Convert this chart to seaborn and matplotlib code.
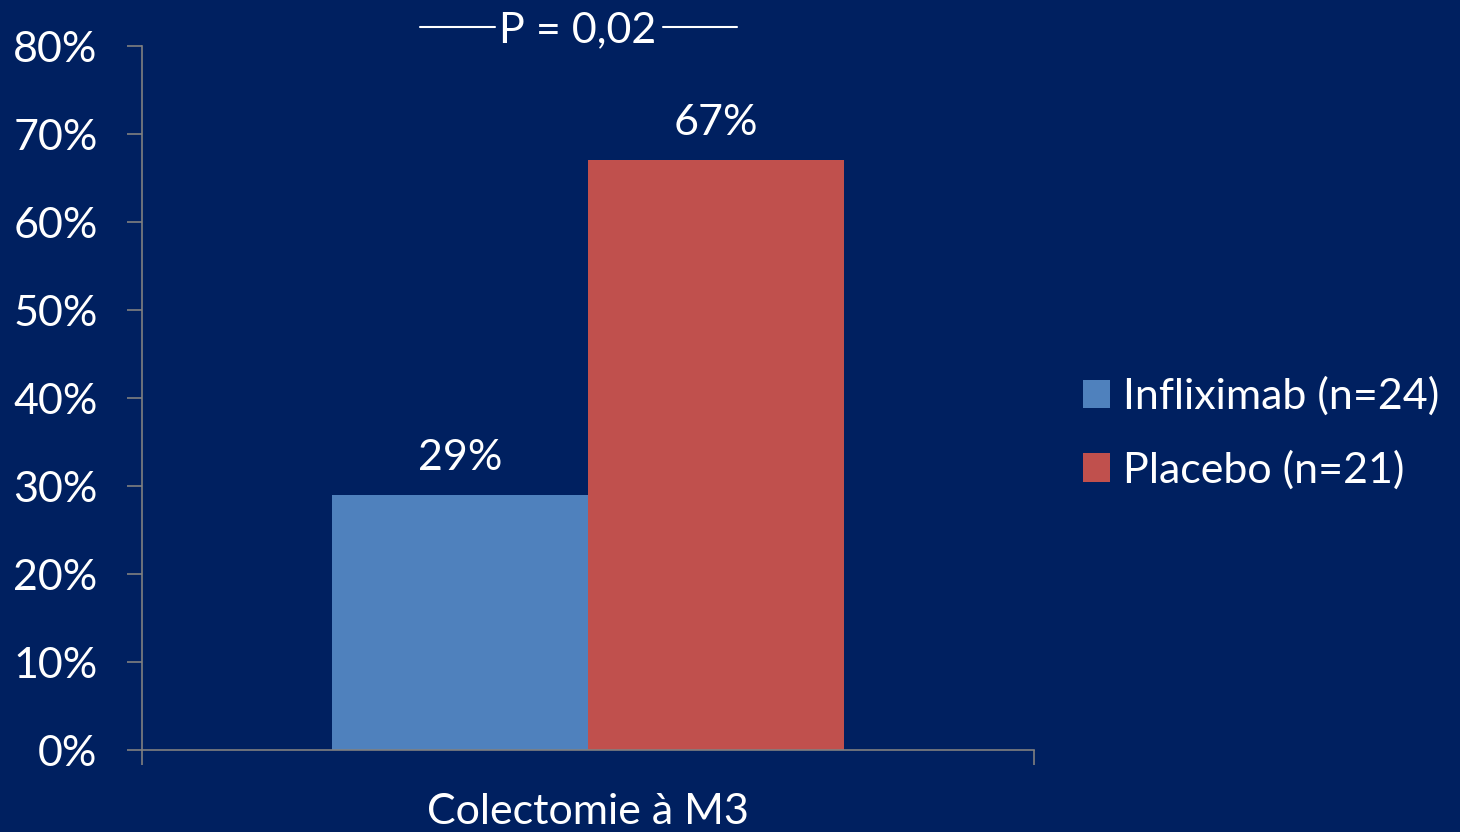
import matplotlib
matplotlib.use("Agg")
import matplotlib.pyplot as plt
from matplotlib.lines import Line2D
import seaborn as sns
import pandas as pd

# Colectomy rate at month 3
categories = ["Colectomie à M3"]
groups = ["Infliximab (n=24)", "Placebo (n=21)"]
values = [0.29, 0.67]
value_labels = ["29%", "67%"]
ytick_values = [0.0, 0.1, 0.2, 0.3, 0.4, 0.5, 0.6, 0.7, 0.8]
ytick_labels = ["0%", "10%", "20%", "30%", "40%", "50%", "60%", "70%", "80%"]
p_text = "P = 0,02"

BG = "#002060"
AXIS = "#808080"
COLORS = ["#4F81BD", "#C0504D"]
FONT = ["Lato", "DejaVu Sans"]
FS = 31

sns.set_theme(style="white")
plt.rcParams["font.family"] = FONT
plt.rcParams["text.color"] = "white"

df = pd.DataFrame({
    "category": [categories[0]] * len(groups),
    "group": groups,
    "value": values,
})

fig = plt.figure(figsize=(14.6, 8.32), dpi=100, facecolor=BG)
ax = fig.add_axes([142 / 1460, 1 - 750 / 832, (1034 - 142) / 1460, (750 - 46) / 832])
ax.set_facecolor(BG)

sns.barplot(data=df, x="category", y="value", hue="group", palette=COLORS,
            saturation=1, width=0.573, ax=ax, legend=True, linewidth=0,
            edgecolor="none")

for cont, lab in zip(ax.containers, value_labels):
    ax.bar_label(cont, labels=[lab], padding=13, fontsize=FS, color="white")

ax.set_xlim(-0.5, 0.5)
ax.set_ylim(0, 0.8)
ax.set_yticks(ytick_values)
ax.set_yticklabels(ytick_labels)
ax.set_xticks([0])
ax.set_xticklabels(categories)
ax.set_xticks([-0.5, 0.5], minor=True)
ax.set_xlabel("")
ax.set_ylabel("")

ax.tick_params(axis="y", which="major", direction="out", length=11, width=1.2,
               color=AXIS, labelcolor="white", labelsize=FS, pad=21, left=True)
ax.tick_params(axis="x", which="major", length=0, labelcolor="white",
               labelsize=FS, pad=31)
ax.tick_params(axis="x", which="minor", direction="out", length=11, width=1.2,
               color=AXIS, bottom=True)

for side in ["top", "right"]:
    ax.spines[side].set_visible(False)
for side in ["left", "bottom"]:
    ax.spines[side].set_visible(True)
    ax.spines[side].set_color(AXIS)
    ax.spines[side].set_linewidth(1.2)

# Legend to the right of the plot
handles, labels = ax.get_legend_handles_labels()
leg = ax.legend(handles, labels, loc="center left",
                bbox_to_anchor=(1083 / 1460, 1 - 433 / 832),
                bbox_transform=fig.transFigure, frameon=False, fontsize=FS,
                handlelength=0.63, handleheight=0.63, handletextpad=0.3,
                labelspacing=0.8, borderpad=0, borderaxespad=0)
for t in leg.get_texts():
    t.set_color("white")
for h in leg.legend_handles:
    h.set_edgecolor("none")
    h.set_linewidth(0)

# Significance annotation above the bars
fig.text(578 / 1460, 1 - 30 / 832, p_text, ha="center", va="center",
         fontsize=FS, color="white")
y_line = 1 - 27 / 832
fig.add_artist(Line2D([420 / 1460, 495 / 1460], [y_line, y_line],
                      transform=fig.transFigure, color="white", lw=1.5))
fig.add_artist(Line2D([663 / 1460, 737 / 1460], [y_line, y_line],
                      transform=fig.transFigure, color="white", lw=1.5))

fig.savefig("out.png", dpi=100, facecolor=BG)
